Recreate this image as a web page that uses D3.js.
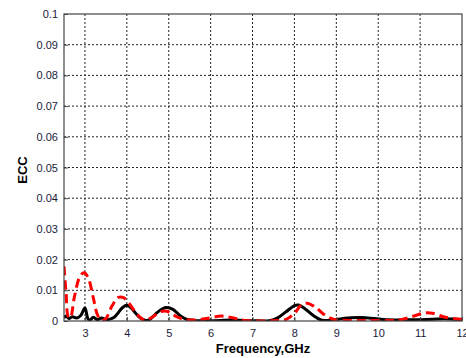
<!DOCTYPE html>
<html>
<head>
<meta charset="utf-8">
<script src="https://cdn.jsdelivr.net/npm/d3@7"></script>
<style>
  body { margin: 0; background: #fff; }
  svg { display: block; }
</style>
</head>
<body>
<svg id="chart" width="466" height="358"></svg>
<script>
// frequency (GHz) / ECC values
var blackFreq = [2.5, 2.55, 2.62, 2.7, 2.8, 2.9, 3.0, 3.07, 3.12, 3.2, 3.3, 3.4, 3.5, 3.6, 3.7, 3.8, 3.9, 4.0, 4.1, 4.2, 4.3, 4.45, 4.55, 4.7, 4.85, 4.95, 5.1, 5.25, 5.4, 5.6, 6.0, 6.5, 7.0, 7.4, 7.6, 7.8, 8.0, 8.1, 8.25, 8.45, 8.65, 8.9, 9.2, 9.6, 9.9, 10.2, 10.8, 11.3, 11.6, 12];
var blackEcc = [0.0010, 0.0016, 0.0008, 0.0014, 0.0010, 0.0018, 0.0042, 0.0008, 0.0003, 0.0012, 0.0004, 0.0010, 0.0004, 0.0006, 0.0012, 0.0028, 0.0044, 0.0051, 0.0043, 0.0027, 0.0012, 0.0002, 0.0005, 0.0025, 0.0040, 0.0044, 0.0038, 0.0020, 0.0007, 0.0002, 0.0001, 0.0003, 0.0001, 0.0001, 0.0010, 0.0030, 0.0050, 0.0052, 0.0040, 0.0018, 0.0003, 0.0002, 0.0009, 0.0011, 0.0008, 0.0004, 0.0004, 0.0006, 0.0007, 0.0004];

var redFreq = [2.5, 2.55, 2.6, 2.65, 2.75, 2.88, 2.98, 3.08, 3.2, 3.3, 3.4, 3.5, 3.65, 3.8, 3.92, 4.05, 4.2, 4.35, 4.45, 4.6, 4.8, 4.95, 5.1, 5.3, 5.6, 5.9, 6.25, 6.55, 6.8, 7.5, 7.8, 8.0, 8.15, 8.3, 8.5, 8.7, 8.95, 9.3, 10.0, 10.5, 10.8, 11.1, 11.3, 11.6, 12];
var redEcc = [0.0178, 0.0090, 0.0015, 0.0010, 0.0080, 0.0145, 0.0157, 0.0140, 0.0075, 0.0020, 0.0002, 0.0008, 0.0050, 0.0077, 0.0076, 0.0058, 0.0030, 0.0008, 0.0002, 0.0012, 0.0030, 0.0032, 0.0020, 0.0008, 0.0003, 0.0008, 0.0016, 0.0010, 0.0002, 0.0001, 0.0005, 0.0025, 0.0050, 0.0058, 0.0045, 0.0022, 0.0005, 0.0002, 0.0002, 0.0003, 0.0014, 0.0026, 0.0025, 0.0012, 0.0006];

var xTicks = [3, 4, 5, 6, 7, 8, 9, 10, 11, 12];
var yTicks = [0, 0.01, 0.02, 0.03, 0.04, 0.05, 0.06, 0.07, 0.08, 0.09, 0.1];

var svg = d3.select("#chart");
var pLeft = 64, pTop = 14, pRight = 462, pBottom = 321;

var x = d3.scaleLinear().domain([2.5, 12]).range([pLeft, pRight]);
var y = d3.scaleLinear().domain([0, 0.1]).range([pBottom, pTop]);

svg.append("defs").append("clipPath").attr("id", "plotclip")
    .append("rect")
    .attr("x", pLeft).attr("y", pTop)
    .attr("width", pRight - pLeft).attr("height", pBottom - pTop);

// grid
var grid = svg.append("g").attr("class", "grid");
grid.selectAll("line.vx")
    .data(xTicks.filter(function(d) { return d < 12; }))
    .enter().append("line")
    .attr("x1", function(d) { return x(d); })
    .attr("x2", function(d) { return x(d); })
    .attr("y1", pTop).attr("y2", pBottom)
    .attr("stroke", "#222").attr("stroke-dasharray", "2,2");
grid.selectAll("line.hy")
    .data(yTicks.filter(function(d) { return d > 0 && d < 0.1; }))
    .enter().append("line")
    .attr("y1", function(d) { return y(d); })
    .attr("y2", function(d) { return y(d); })
    .attr("x1", pLeft).attr("x2", pRight)
    .attr("stroke", "#222").attr("stroke-dasharray", "2,2");

// curves
var line = d3.line()
    .x(function(d) { return x(d[0]); })
    .y(function(d) { return y(d[1]); })
    .curve(d3.curveCatmullRom.alpha(0.5));

var plot = svg.append("g").attr("clip-path", "url(#plotclip)");

plot.append("path")
    .datum(d3.zip(blackFreq, blackEcc))
    .attr("d", line)
    .attr("fill", "none")
    .attr("stroke", "#000")
    .attr("stroke-width", 3)
    .attr("stroke-linejoin", "round");

plot.append("path")
    .datum(d3.zip(redFreq, redEcc))
    .attr("d", line)
    .attr("fill", "none")
    .attr("stroke", "#ff0000")
    .attr("stroke-width", 3)
    .attr("stroke-dasharray", "9,5");

// frame
svg.append("rect")
    .attr("x", pLeft).attr("y", pTop)
    .attr("width", pRight - pLeft).attr("height", pBottom - pTop)
    .attr("fill", "none")
    .attr("stroke", "#444")
    .attr("stroke-width", 1.2);

// axes (ticks inside like matlab)
var xAxis = d3.axisBottom(x).tickValues(xTicks).tickSize(-4).tickPadding(8)
    .tickFormat(d3.format("d"));
var gx = svg.append("g").attr("transform", "translate(0," + pBottom + ")").call(xAxis);

var yAxis = d3.axisLeft(y).tickValues(yTicks).tickSize(-4).tickPadding(6)
    .tickFormat(function(d) { return d === 0 ? "0" : d3.format(".2~f")(d); });
var gy = svg.append("g").attr("transform", "translate(" + pLeft + ",0)").call(yAxis);

[gx, gy].forEach(function(g) {
    g.select(".domain").remove();
    g.selectAll(".tick line").attr("stroke", "#444");
    g.selectAll(".tick text")
        .attr("fill", "#1a1a3a")
        .style("font-family", "Liberation Sans, Arial, sans-serif")
        .style("font-size", "11px");
});

svg.append("text")
    .attr("x", 263).attr("y", 353)
    .attr("text-anchor", "middle")
    .style("font-family", "Liberation Sans, Arial, sans-serif")
    .style("font-size", "13px")
    .style("font-weight", "bold")
    .text("Frequency,GHz");

svg.append("text")
    .attr("transform", "translate(27,170) rotate(-90)")
    .attr("text-anchor", "middle")
    .style("font-family", "Liberation Sans, Arial, sans-serif")
    .style("font-size", "13px")
    .style("font-weight", "bold")
    .text("ECC");
</script>
</body>
</html>
